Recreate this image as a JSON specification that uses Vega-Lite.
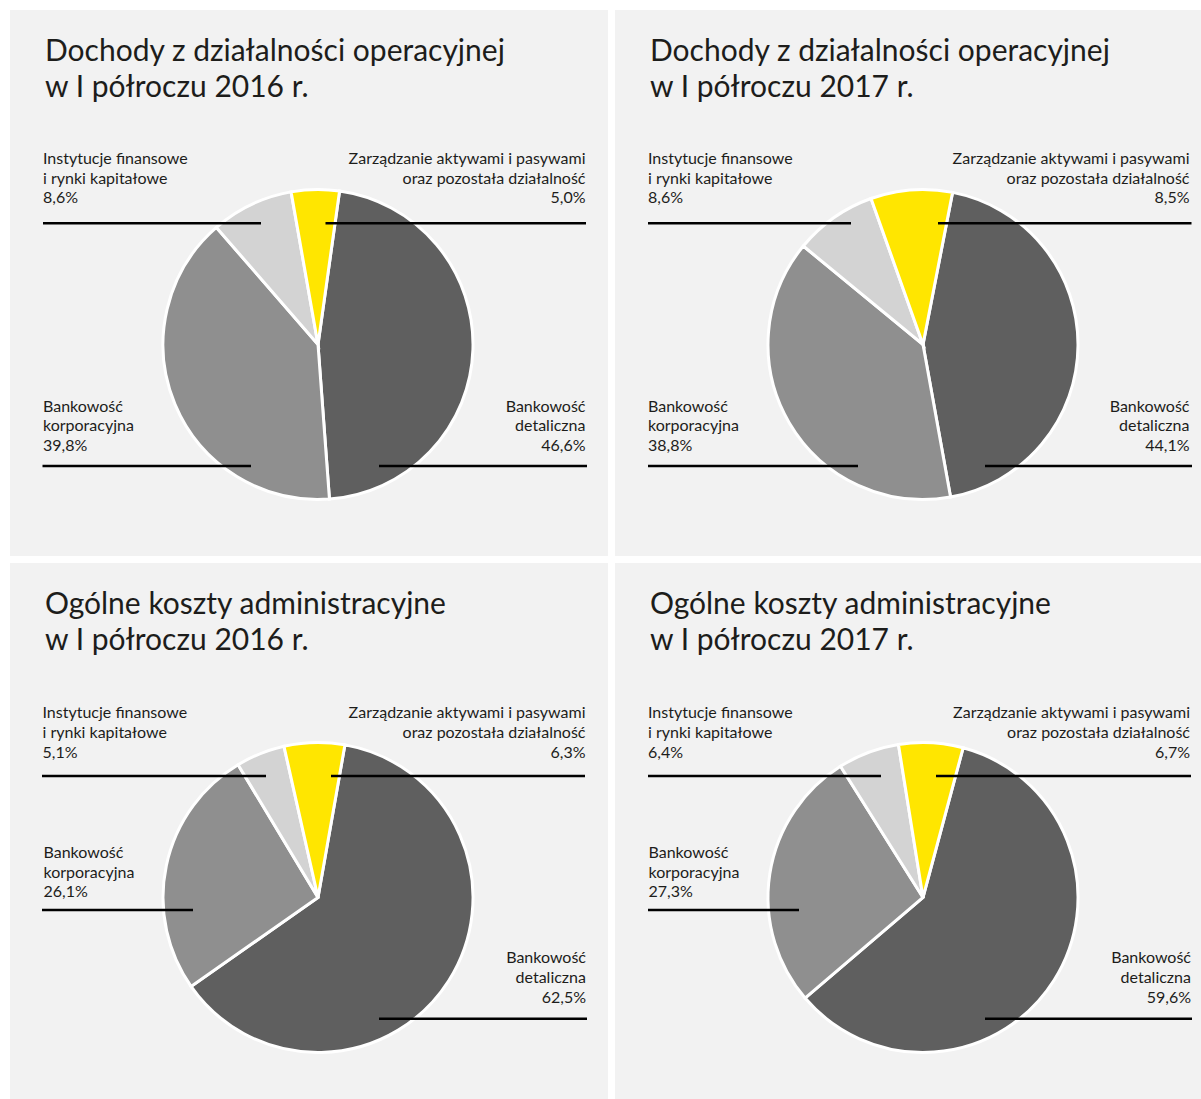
{
  "$schema": "https://vega.github.io/schema/vega-lite/v6.json",
  "background": "#ffffff",
  "padding": {"left": 10, "top": 10, "right": 0, "bottom": 0},
  "spacing": 7,
  "datasets": {
    "d1": [
      {"key": "retail", "segment": "Bankowość detaliczna", "label": "Bankowość\ndetaliczna\n46,6%", "value": 46.6},
      {"key": "corp", "segment": "Bankowość korporacyjna", "label": "Bankowość\nkorporacyjna\n39,8%", "value": 39.8},
      {"key": "inst", "segment": "Instytucje finansowe i rynki kapitałowe", "label": "Instytucje finansowe\ni rynki kapitałowe\n8,6%", "value": 8.6},
      {"key": "asset", "segment": "Zarządzanie aktywami i pasywami oraz pozostała działalność", "label": "Zarządzanie aktywami i pasywami\noraz pozostała działalność\n5,0%", "value": 5.0}
    ],
    "d2": [
      {"key": "retail", "segment": "Bankowość detaliczna", "label": "Bankowość\ndetaliczna\n44,1%", "value": 44.1},
      {"key": "corp", "segment": "Bankowość korporacyjna", "label": "Bankowość\nkorporacyjna\n38,8%", "value": 38.8},
      {"key": "inst", "segment": "Instytucje finansowe i rynki kapitałowe", "label": "Instytucje finansowe\ni rynki kapitałowe\n8,6%", "value": 8.6},
      {"key": "asset", "segment": "Zarządzanie aktywami i pasywami oraz pozostała działalność", "label": "Zarządzanie aktywami i pasywami\noraz pozostała działalność\n8,5%", "value": 8.5}
    ],
    "d3": [
      {"key": "retail", "segment": "Bankowość detaliczna", "label": "Bankowość\ndetaliczna\n62,5%", "value": 62.5},
      {"key": "corp", "segment": "Bankowość korporacyjna", "label": "Bankowość\nkorporacyjna\n26,1%", "value": 26.1},
      {"key": "inst", "segment": "Instytucje finansowe i rynki kapitałowe", "label": "Instytucje finansowe\ni rynki kapitałowe\n5,1%", "value": 5.1},
      {"key": "asset", "segment": "Zarządzanie aktywami i pasywami oraz pozostała działalność", "label": "Zarządzanie aktywami i pasywami\noraz pozostała działalność\n6,3%", "value": 6.3}
    ],
    "d4": [
      {"key": "retail", "segment": "Bankowość detaliczna", "label": "Bankowość\ndetaliczna\n59,6%", "value": 59.6},
      {"key": "corp", "segment": "Bankowość korporacyjna", "label": "Bankowość\nkorporacyjna\n27,3%", "value": 27.3},
      {"key": "inst", "segment": "Instytucje finansowe i rynki kapitałowe", "label": "Instytucje finansowe\ni rynki kapitałowe\n6,4%", "value": 6.4},
      {"key": "asset", "segment": "Zarządzanie aktywami i pasywami oraz pozostała działalność", "label": "Zarządzanie aktywami i pasywami\noraz pozostała działalność\n6,7%", "value": 6.7}
    ]
  },
  "vconcat": [
    {
      "spacing": 7,
      "hconcat": [
        {
          "width": 598, "height": 546,
          "data": {"name": "d1"},
          "title": {"text": ["Dochody z działalności operacyjnej", "w I półroczu 2016 r."], "offset": -92.5},
          "layer": [
            {"mark": {"type": "arc", "outerRadius": 155, "stroke": "#ffffff", "strokeWidth": 3},
             "encoding": {
               "theta": {"field": "value", "type": "quantitative", "stack": true, "scale": {"range": [0.1396, 6.4228]}},
               "color": {"field": "segment", "type": "nominal", "legend": null, "scale": {"domain": ["Bankowość detaliczna", "Bankowość korporacyjna", "Instytucje finansowe i rynki kapitałowe", "Zarządzanie aktywami i pasywami oraz pozostała działalność"], "range": ["#5f5f5f", "#8f8f8f", "#d3d3d3", "#ffe600"]}},
               "order": {"field": "segment", "sort": "ascending"},
               "x": {"datum": 308, "type": "quantitative", "axis": null, "scale": {"domain": [0, 598], "range": [0, 598], "nice": false, "zero": false}},
               "y": {"datum": 334.5, "type": "quantitative", "axis": null, "scale": {"domain": [0, 546], "range": [0, 546], "nice": false, "zero": false}}
             }},
            {"transform": [{"filter": "datum.key === 'inst'"}], "mark": {"type": "text", "align": "left"},
             "encoding": {"text": {"field": "label"}, "x": {"datum": 33, "type": "quantitative", "axis": null}, "y": {"datum": 154, "type": "quantitative", "axis": null}}},
            {"transform": [{"filter": "datum.key === 'asset'"}], "mark": {"type": "text", "align": "right"},
             "encoding": {"text": {"field": "label"}, "x": {"datum": 575.5, "type": "quantitative", "axis": null}, "y": {"datum": 154, "type": "quantitative", "axis": null}}},
            {"transform": [{"filter": "datum.key === 'corp'"}], "mark": {"type": "text", "align": "left"},
             "encoding": {"text": {"field": "label"}, "x": {"datum": 33, "type": "quantitative", "axis": null}, "y": {"datum": 401.7, "type": "quantitative", "axis": null}}},
            {"transform": [{"filter": "datum.key === 'retail'"}], "mark": {"type": "text", "align": "right"},
             "encoding": {"text": {"field": "label"}, "x": {"datum": 575.5, "type": "quantitative", "axis": null}, "y": {"datum": 401.7, "type": "quantitative", "axis": null}}},
            {"transform": [{"filter": "datum.key === 'inst'"}], "mark": {"type": "rule"},
             "encoding": {"x": {"datum": 33, "type": "quantitative", "axis": null}, "x2": {"datum": 251}, "y": {"datum": 213.3, "type": "quantitative", "axis": null}}},
            {"transform": [{"filter": "datum.key === 'asset'"}], "mark": {"type": "rule"},
             "encoding": {"x": {"datum": 315.5, "type": "quantitative", "axis": null}, "x2": {"datum": 576}, "y": {"datum": 213.3, "type": "quantitative", "axis": null}}},
            {"transform": [{"filter": "datum.key === 'corp'"}], "mark": {"type": "rule"},
             "encoding": {"x": {"datum": 32.5, "type": "quantitative", "axis": null}, "x2": {"datum": 241}, "y": {"datum": 456, "type": "quantitative", "axis": null}}},
            {"transform": [{"filter": "datum.key === 'retail'"}], "mark": {"type": "rule"},
             "encoding": {"x": {"datum": 369, "type": "quantitative", "axis": null}, "x2": {"datum": 577}, "y": {"datum": 456, "type": "quantitative", "axis": null}}}
          ]
        },
        {
          "width": 586, "height": 546,
          "data": {"name": "d2"},
          "title": {"text": ["Dochody z działalności operacyjnej", "w I półroczu 2017 r."], "offset": -92.5},
          "layer": [
            {"mark": {"type": "arc", "outerRadius": 155, "stroke": "#ffffff", "strokeWidth": 3},
             "encoding": {
               "theta": {"field": "value", "type": "quantitative", "stack": true, "scale": {"range": [0.192, 6.4752]}},
               "color": {"field": "segment", "type": "nominal", "legend": null, "scale": {"domain": ["Bankowość detaliczna", "Bankowość korporacyjna", "Instytucje finansowe i rynki kapitałowe", "Zarządzanie aktywami i pasywami oraz pozostała działalność"], "range": ["#5f5f5f", "#8f8f8f", "#d3d3d3", "#ffe600"]}},
               "order": {"field": "segment", "sort": "ascending"},
               "x": {"datum": 308, "type": "quantitative", "axis": null, "scale": {"domain": [0, 586], "range": [0, 586], "nice": false, "zero": false}},
               "y": {"datum": 334.5, "type": "quantitative", "axis": null, "scale": {"domain": [0, 546], "range": [0, 546], "nice": false, "zero": false}}
             }},
            {"transform": [{"filter": "datum.key === 'inst'"}], "mark": {"type": "text", "align": "left"},
             "encoding": {"text": {"field": "label"}, "x": {"datum": 33, "type": "quantitative", "axis": null}, "y": {"datum": 154, "type": "quantitative", "axis": null}}},
            {"transform": [{"filter": "datum.key === 'asset'"}], "mark": {"type": "text", "align": "right"},
             "encoding": {"text": {"field": "label"}, "x": {"datum": 574.5, "type": "quantitative", "axis": null}, "y": {"datum": 154, "type": "quantitative", "axis": null}}},
            {"transform": [{"filter": "datum.key === 'corp'"}], "mark": {"type": "text", "align": "left"},
             "encoding": {"text": {"field": "label"}, "x": {"datum": 33, "type": "quantitative", "axis": null}, "y": {"datum": 401.7, "type": "quantitative", "axis": null}}},
            {"transform": [{"filter": "datum.key === 'retail'"}], "mark": {"type": "text", "align": "right"},
             "encoding": {"text": {"field": "label"}, "x": {"datum": 574.5, "type": "quantitative", "axis": null}, "y": {"datum": 401.7, "type": "quantitative", "axis": null}}},
            {"transform": [{"filter": "datum.key === 'inst'"}], "mark": {"type": "rule"},
             "encoding": {"x": {"datum": 33, "type": "quantitative", "axis": null}, "x2": {"datum": 236}, "y": {"datum": 213.3, "type": "quantitative", "axis": null}}},
            {"transform": [{"filter": "datum.key === 'asset'"}], "mark": {"type": "rule"},
             "encoding": {"x": {"datum": 323, "type": "quantitative", "axis": null}, "x2": {"datum": 576.5}, "y": {"datum": 213.3, "type": "quantitative", "axis": null}}},
            {"transform": [{"filter": "datum.key === 'corp'"}], "mark": {"type": "rule"},
             "encoding": {"x": {"datum": 33, "type": "quantitative", "axis": null}, "x2": {"datum": 243}, "y": {"datum": 456, "type": "quantitative", "axis": null}}},
            {"transform": [{"filter": "datum.key === 'retail'"}], "mark": {"type": "rule"},
             "encoding": {"x": {"datum": 370, "type": "quantitative", "axis": null}, "x2": {"datum": 577}, "y": {"datum": 456, "type": "quantitative", "axis": null}}}
          ]
        }
      ]
    },
    {
      "spacing": 7,
      "hconcat": [
        {
          "width": 598, "height": 536,
          "data": {"name": "d3"},
          "title": {"text": ["Ogólne koszty administracyjne", "w I półroczu 2016 r."], "offset": -92.5},
          "layer": [
            {"mark": {"type": "arc", "outerRadius": 155, "stroke": "#ffffff", "strokeWidth": 3},
             "encoding": {
               "theta": {"field": "value", "type": "quantitative", "stack": true, "scale": {"range": [0.1745, 6.4577]}},
               "color": {"field": "segment", "type": "nominal", "legend": null, "scale": {"domain": ["Bankowość detaliczna", "Bankowość korporacyjna", "Instytucje finansowe i rynki kapitałowe", "Zarządzanie aktywami i pasywami oraz pozostała działalność"], "range": ["#5f5f5f", "#8f8f8f", "#d3d3d3", "#ffe600"]}},
               "order": {"field": "segment", "sort": "ascending"},
               "x": {"datum": 308, "type": "quantitative", "axis": null, "scale": {"domain": [0, 598], "range": [0, 598], "nice": false, "zero": false}},
               "y": {"datum": 334.5, "type": "quantitative", "axis": null, "scale": {"domain": [0, 536], "range": [0, 536], "nice": false, "zero": false}}
             }},
            {"transform": [{"filter": "datum.key === 'inst'"}], "mark": {"type": "text", "align": "left"},
             "encoding": {"text": {"field": "label"}, "x": {"datum": 32.5, "type": "quantitative", "axis": null}, "y": {"datum": 155.3, "type": "quantitative", "axis": null}}},
            {"transform": [{"filter": "datum.key === 'asset'"}], "mark": {"type": "text", "align": "right"},
             "encoding": {"text": {"field": "label"}, "x": {"datum": 575.5, "type": "quantitative", "axis": null}, "y": {"datum": 155.3, "type": "quantitative", "axis": null}}},
            {"transform": [{"filter": "datum.key === 'corp'"}], "mark": {"type": "text", "align": "left"},
             "encoding": {"text": {"field": "label"}, "x": {"datum": 33.5, "type": "quantitative", "axis": null}, "y": {"datum": 295, "type": "quantitative", "axis": null}}},
            {"transform": [{"filter": "datum.key === 'retail'"}], "mark": {"type": "text", "align": "right"},
             "encoding": {"text": {"field": "label"}, "x": {"datum": 576, "type": "quantitative", "axis": null}, "y": {"datum": 400.3, "type": "quantitative", "axis": null}}},
            {"transform": [{"filter": "datum.key === 'inst'"}], "mark": {"type": "rule"},
             "encoding": {"x": {"datum": 32, "type": "quantitative", "axis": null}, "x2": {"datum": 256}, "y": {"datum": 213, "type": "quantitative", "axis": null}}},
            {"transform": [{"filter": "datum.key === 'asset'"}], "mark": {"type": "rule"},
             "encoding": {"x": {"datum": 321, "type": "quantitative", "axis": null}, "x2": {"datum": 575}, "y": {"datum": 213, "type": "quantitative", "axis": null}}},
            {"transform": [{"filter": "datum.key === 'corp'"}], "mark": {"type": "rule"},
             "encoding": {"x": {"datum": 32, "type": "quantitative", "axis": null}, "x2": {"datum": 183}, "y": {"datum": 347, "type": "quantitative", "axis": null}}},
            {"transform": [{"filter": "datum.key === 'retail'"}], "mark": {"type": "rule"},
             "encoding": {"x": {"datum": 369, "type": "quantitative", "axis": null}, "x2": {"datum": 577}, "y": {"datum": 455.7, "type": "quantitative", "axis": null}}}
          ]
        },
        {
          "width": 586, "height": 536,
          "data": {"name": "d4"},
          "title": {"text": ["Ogólne koszty administracyjne", "w I półroczu 2017 r."], "offset": -92.5},
          "layer": [
            {"mark": {"type": "arc", "outerRadius": 155, "stroke": "#ffffff", "strokeWidth": 3},
             "encoding": {
               "theta": {"field": "value", "type": "quantitative", "stack": true, "scale": {"range": [0.2618, 6.545]}},
               "color": {"field": "segment", "type": "nominal", "legend": null, "scale": {"domain": ["Bankowość detaliczna", "Bankowość korporacyjna", "Instytucje finansowe i rynki kapitałowe", "Zarządzanie aktywami i pasywami oraz pozostała działalność"], "range": ["#5f5f5f", "#8f8f8f", "#d3d3d3", "#ffe600"]}},
               "order": {"field": "segment", "sort": "ascending"},
               "x": {"datum": 308, "type": "quantitative", "axis": null, "scale": {"domain": [0, 586], "range": [0, 586], "nice": false, "zero": false}},
               "y": {"datum": 334.5, "type": "quantitative", "axis": null, "scale": {"domain": [0, 536], "range": [0, 536], "nice": false, "zero": false}}
             }},
            {"transform": [{"filter": "datum.key === 'inst'"}], "mark": {"type": "text", "align": "left"},
             "encoding": {"text": {"field": "label"}, "x": {"datum": 33, "type": "quantitative", "axis": null}, "y": {"datum": 155.3, "type": "quantitative", "axis": null}}},
            {"transform": [{"filter": "datum.key === 'asset'"}], "mark": {"type": "text", "align": "right"},
             "encoding": {"text": {"field": "label"}, "x": {"datum": 575, "type": "quantitative", "axis": null}, "y": {"datum": 155.3, "type": "quantitative", "axis": null}}},
            {"transform": [{"filter": "datum.key === 'corp'"}], "mark": {"type": "text", "align": "left"},
             "encoding": {"text": {"field": "label"}, "x": {"datum": 33.5, "type": "quantitative", "axis": null}, "y": {"datum": 295, "type": "quantitative", "axis": null}}},
            {"transform": [{"filter": "datum.key === 'retail'"}], "mark": {"type": "text", "align": "right"},
             "encoding": {"text": {"field": "label"}, "x": {"datum": 576, "type": "quantitative", "axis": null}, "y": {"datum": 400.3, "type": "quantitative", "axis": null}}},
            {"transform": [{"filter": "datum.key === 'inst'"}], "mark": {"type": "rule"},
             "encoding": {"x": {"datum": 33, "type": "quantitative", "axis": null}, "x2": {"datum": 266}, "y": {"datum": 213, "type": "quantitative", "axis": null}}},
            {"transform": [{"filter": "datum.key === 'asset'"}], "mark": {"type": "rule"},
             "encoding": {"x": {"datum": 321, "type": "quantitative", "axis": null}, "x2": {"datum": 576}, "y": {"datum": 213, "type": "quantitative", "axis": null}}},
            {"transform": [{"filter": "datum.key === 'corp'"}], "mark": {"type": "rule"},
             "encoding": {"x": {"datum": 33, "type": "quantitative", "axis": null}, "x2": {"datum": 184}, "y": {"datum": 347, "type": "quantitative", "axis": null}}},
            {"transform": [{"filter": "datum.key === 'retail'"}], "mark": {"type": "rule"},
             "encoding": {"x": {"datum": 370, "type": "quantitative", "axis": null}, "x2": {"datum": 577}, "y": {"datum": 455.7, "type": "quantitative", "axis": null}}}
          ]
        }
      ]
    }
  ],
  "config": {
    "view": {"stroke": null, "fill": "#f2f2f2"},
    "concat": {"spacing": 7},
    "text": {"font": "Lato", "fontSize": 16, "color": "#1d1d1b", "baseline": "alphabetic", "lineBreak": "\n", "lineHeight": 19.7},
    "rule": {"stroke": "#000000", "strokeWidth": 2.5},
    "title": {"anchor": "start", "frame": "group", "orient": "top", "dx": 35, "font": "Lato", "fontSize": 30, "fontWeight": "normal", "color": "#1d1d1b", "lineHeight": 36, "baseline": "alphabetic"}
  }
}
